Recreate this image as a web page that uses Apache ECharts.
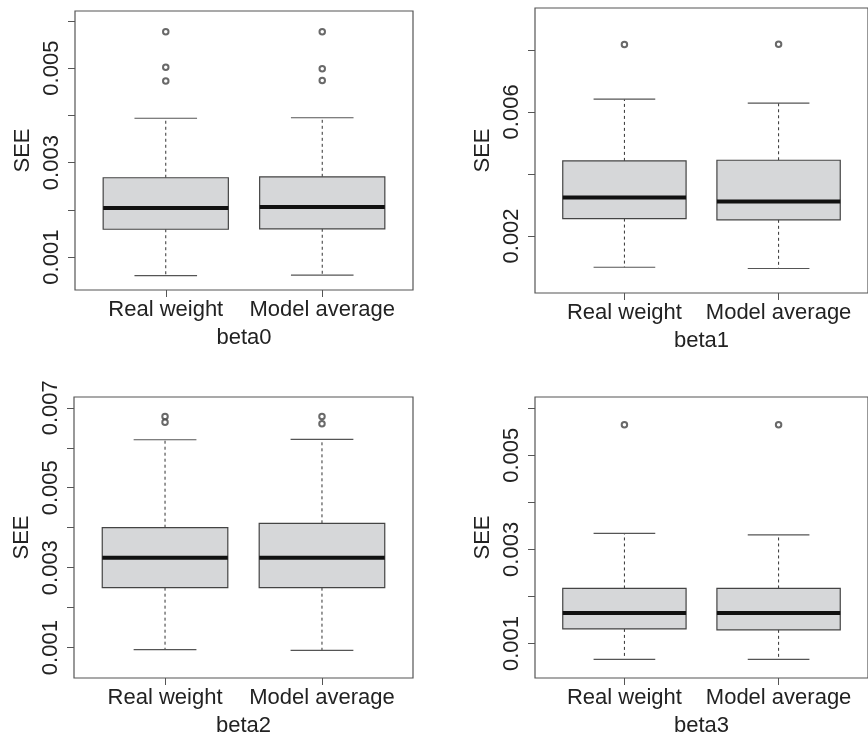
<!DOCTYPE html>
<html>
<head>
<meta charset="utf-8">
<title>SEE boxplots</title>
<script src="https://cdn.jsdelivr.net/npm/echarts@6/dist/echarts.min.js"></script>
<style>
  html, body { margin: 0; padding: 0; background: #fff; }
  #chart { width: 868px; height: 738px; }
</style>
</head>
<body>
<div id="chart"></div>
<script>
const groups = ['Real weight', 'Model average'];
const panelNames = ['beta0', 'beta1', 'beta2', 'beta3'];

// boxes: [lower whisker, Q1, median, Q3, upper whisker]
const beta0Real = [0.00061, 0.00159, 0.00204, 0.00268, 0.00394];
const beta0Avg  = [0.00062, 0.00160, 0.00206, 0.00270, 0.00395];
const beta1Real = [0.00099, 0.00256, 0.00324, 0.00442, 0.00641];
const beta1Avg  = [0.00095, 0.00252, 0.00311, 0.00444, 0.00628];
const beta2Real = [0.00095, 0.00250, 0.00325, 0.00400, 0.00620];
const beta2Avg  = [0.00093, 0.00250, 0.00325, 0.00411, 0.00621];
const beta3Real = [0.00066, 0.00131, 0.00165, 0.00217, 0.00334];
const beta3Avg  = [0.00066, 0.00129, 0.00165, 0.00217, 0.00331];

// outliers
const beta0RealOut = [0.00577, 0.00502, 0.00473];
const beta0AvgOut  = [0.00577, 0.00499, 0.00474];
const beta1RealOut = [0.00817];
const beta1AvgOut  = [0.00818];
const beta2RealOut = [0.00678, 0.00664];
const beta2AvgOut  = [0.00678, 0.00660];
const beta3RealOut = [0.00565];
const beta3AvgOut  = [0.00565];

// y axis ranges, ticks and labelled ticks
const yMin = [0.000304, 0.00016, 0.00024, 0.000266];
const yMax = [0.00621, 0.00935, 0.00727, 0.00624];
const yTicks = [
  [0.001, 0.002, 0.003, 0.004, 0.005, 0.006],
  [0.002, 0.004, 0.006, 0.008],
  [0.001, 0.002, 0.003, 0.004, 0.005, 0.006, 0.007],
  [0.001, 0.002, 0.003, 0.004, 0.005, 0.006]
];
const yLabels = [
  [0.001, 0.003, 0.005],
  [0.002, 0.006],
  [0.001, 0.003, 0.005, 0.007],
  [0.001, 0.003, 0.005]
];

const boxes = [[beta0Real, beta0Avg], [beta1Real, beta1Avg], [beta2Real, beta2Avg], [beta3Real, beta3Avg]];
const outliers = [[beta0RealOut, beta0AvgOut], [beta1RealOut, beta1AvgOut], [beta2RealOut, beta2AvgOut], [beta3RealOut, beta3AvgOut]];

const frames = [
  { left: 75, top: 11, width: 338, height: 279 },
  { left: 535, top: 8, width: 340, height: 285 },
  { left: 74, top: 397, width: 339, height: 285 },
  { left: 535, top: 397, width: 340, height: 285 }
];

const font = "'Liberation Sans', Arial, sans-serif";
const textColor = '#222';

function renderBox(params, api) {
  const x = api.value(0);
  const lo = api.coord([x, api.value(1)]);
  const q1 = api.coord([x, api.value(2)]);
  const med = api.coord([x, api.value(3)]);
  const q3 = api.coord([x, api.value(4)]);
  const hi = api.coord([x, api.value(5)]);
  const half = api.size([0.4, 0])[0];
  const cap = api.size([0.2, 0])[0];
  const cx = lo[0];
  const dash = { stroke: '#333', lineWidth: 1, lineDash: [3, 3] };
  const solid = { stroke: '#555', lineWidth: 1.2 };
  return {
    type: 'group',
    children: [
      { type: 'line', shape: { x1: cx, y1: q3[1], x2: cx, y2: hi[1] }, style: dash },
      { type: 'line', shape: { x1: cx, y1: q1[1], x2: cx, y2: lo[1] }, style: dash },
      { type: 'line', shape: { x1: cx - cap, y1: hi[1], x2: cx + cap, y2: hi[1] }, style: solid },
      { type: 'line', shape: { x1: cx - cap, y1: lo[1], x2: cx + cap, y2: lo[1] }, style: solid },
      { type: 'rect', shape: { x: cx - half, y: q3[1], width: half * 2, height: q1[1] - q3[1] },
        style: { fill: '#d6d7d9', stroke: '#444', lineWidth: 1.2 } },
      { type: 'line', shape: { x1: cx - half, y1: med[1], x2: cx + half, y2: med[1] },
        style: { stroke: '#111', lineWidth: 4 } }
    ]
  };
}

const grid = [], xAxis = [], yAxis = [], series = [];

panelNames.forEach((name, i) => {
  grid.push(Object.assign({
    show: true, borderColor: '#555', borderWidth: 1.2, backgroundColor: 'transparent'
  }, frames[i]));

  xAxis.push({
    type: 'value', gridIndex: i, min: 0.42, max: 2.58,
    name: name, nameLocation: 'middle', nameGap: 37,
    nameTextStyle: { fontFamily: font, fontSize: 22, color: textColor },
    axisLine: { show: false },
    splitLine: { show: false },
    axisTick: { show: true, length: 7, customValues: [1, 2], lineStyle: { color: '#555' } },
    axisLabel: {
      customValues: [1, 2], margin: 9,
      fontFamily: font, fontSize: 22, color: textColor,
      formatter: v => groups[Math.round(v) - 1]
    }
  });

  yAxis.push({
    type: 'value', gridIndex: i, min: yMin[i], max: yMax[i],
    name: 'SEE', nameLocation: 'middle', nameGap: 41,
    nameTextStyle: { fontFamily: font, fontSize: 22, color: textColor },
    axisLine: { show: false },
    splitLine: { show: false },
    axisTick: { show: true, length: 7, customValues: yTicks[i], lineStyle: { color: '#555' } },
    axisLabel: {
      customValues: yLabels[i], rotate: 90, margin: 12,
      fontFamily: font, fontSize: 22, color: textColor,
      formatter: v => v.toFixed(3)
    }
  });

  series.push({
    type: 'custom', xAxisIndex: i, yAxisIndex: i,
    renderItem: renderBox,
    encode: { x: 0, y: [1, 2, 3, 4, 5] },
    data: boxes[i].map((b, g) => [g + 1].concat(b)),
    z: 2
  });

  const pts = [];
  outliers[i].forEach((vals, g) => vals.forEach(v => pts.push([g + 1, v])));
  series.push({
    type: 'scatter', xAxisIndex: i, yAxisIndex: i,
    symbol: 'emptyCircle', symbolSize: 5.5,
    itemStyle: { color: '#444', borderWidth: 0.8 },
    data: pts,
    z: 3
  });
});

const chart = echarts.init(document.getElementById('chart'));
chart.setOption({
  animation: false,
  backgroundColor: '#fff',
  grid: grid,
  xAxis: xAxis,
  yAxis: yAxis,
  series: series
});
</script>
</body>
</html>
